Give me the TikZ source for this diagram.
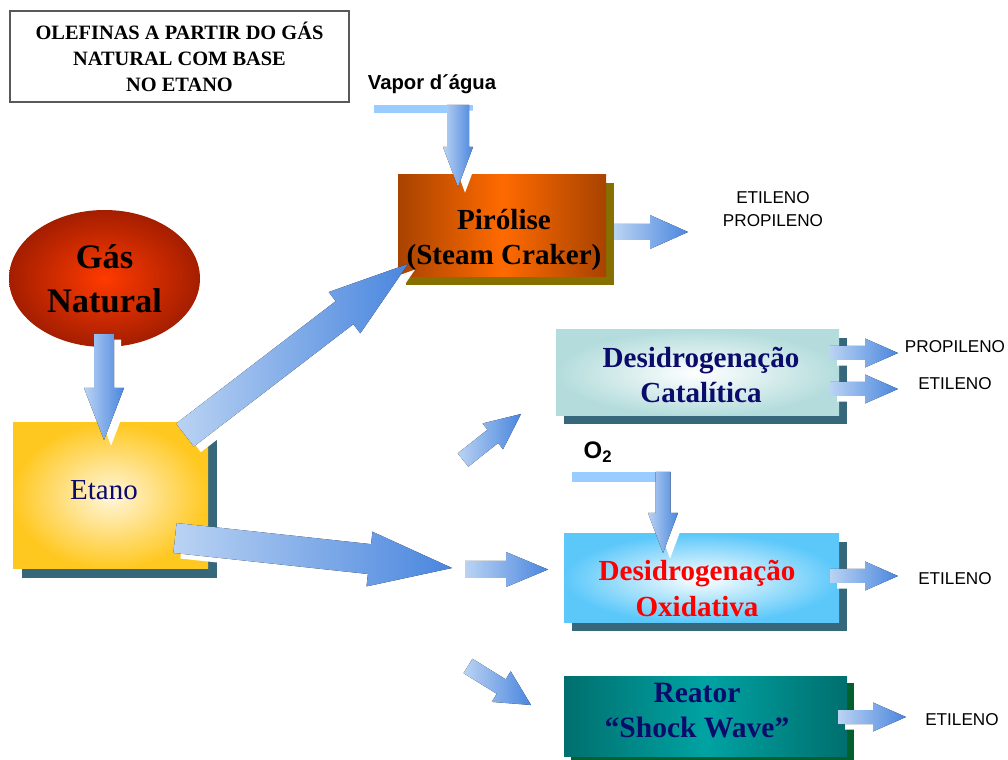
\documentclass[tikz,border=0pt]{standalone}
\usepackage{fontspec}
\setmainfont{Liberation Serif}
\setsansfont{Liberation Sans}
\usetikzlibrary{calc,shadows,shapes.geometric}

\definecolor{arrowlight}{HTML}{BAD3F3}
\definecolor{arrowblue}{HTML}{4A86DE}
\definecolor{pipeblue}{HTML}{99CCFF}
\definecolor{slateshadow}{HTML}{36677B}
\definecolor{oliveshadow}{HTML}{857000}
\definecolor{greenshadow}{HTML}{00602E}
\definecolor{navytext}{HTML}{0B0B6B}
\definecolor{pirdark}{HTML}{A84300}
\definecolor{pirlight}{HTML}{FF6A00}
\definecolor{catout}{HTML}{B4DCDC}
\definecolor{oxiout}{HTML}{5CC8FA}
\definecolor{readark}{HTML}{006F6E}
\definecolor{realight}{HTML}{00A3A3}
\definecolor{etanoout}{HTML}{FFC820}
\definecolor{etanoin}{HTML}{FFF6DC}
\definecolor{gasout}{HTML}{A41E00}
\definecolor{gasin}{HTML}{FF3A00}

\def\pxu{0.025cm}

% block arrow: tail, tip, half shaft, half head, head length (in px)
\newcommand{\arrowpath}[5]{($(#1)!#3*\pxu!90:(#2)$) -- ($(hb)!#3*\pxu!90:(#2)$) -- ($(hb)!#4*\pxu!90:(#2)$) -- (#2) -- ($(hb)!#4*\pxu!-90:(#2)$) -- ($(hb)!#3*\pxu!-90:(#2)$) -- ($(#1)!#3*\pxu!-90:(#2)$) -- cycle}
\newcommand{\blockarrow}[5]{%
  \coordinate (hb) at ($(#2)!#5*\pxu!(#1)$);
  \fill[arrowgap] \arrowpath{#1}{#2}{#3}{#4}{#5};
  \fill[arrowbody] \arrowpath{#1}{#2}{#3}{#4}{#5};
}

\begin{document}
\begin{tikzpicture}[x=0.025cm, y=-0.025cm,
  boxfont/.style={font=\bfseries\fontsize{20.7}{25}\selectfont, align=center},
  product/.style={font=\sffamily\fontsize{12.2}{16.3}\selectfont, align=center},
  feed/.style={font=\sffamily\bfseries\fontsize{14.4}{17}\selectfont},
  arrowgap/.style={fill=white, transform canvas={xshift=5pt, yshift=-4pt}},
  arrowbody/.style={left color=arrowlight, right color=arrowblue},
  pipe/.style={fill=pipeblue},
  procbox/.style={rectangle, inner sep=0pt, drop shadow={shadow xshift=#1, shadow yshift=-#1, fill=slateshadow, opacity=1}}
]

\useasboundingbox (0,0) rectangle (1008,760);

\node[draw=black!65, line width=0.9pt, fill=white, minimum width=339*\pxu, minimum height=91*\pxu, align=center, font=\bfseries\fontsize{14.5}{18.5}\selectfont] (titulo) at (179.5,56.5) {OLEFINAS A PARTIR DO GÁS\\NATURAL COM BASE\\NO ETANO};

\node[ellipse, inner sep=0pt, minimum width=191*\pxu, minimum height=137*\pxu, inner color=gasin, outer color=gasout, font=\bfseries\fontsize{24.5}{31}\selectfont, align=center] (gas) at (104.5,278.5) {Gás\\Natural};

\node[procbox=0.225cm, minimum width=195*\pxu, minimum height=146*\pxu, inner color=etanoin, outer color=etanoout] (etano) at (110.5,496) {};
\node[font=\fontsize{20.6}{24}\selectfont, text=navytext] (etano-txt) at (104,490) {Etano};

\node[procbox=0.2cm, drop shadow={shadow xshift=0.2cm, shadow yshift=-0.2cm, fill=oliveshadow, opacity=1}, minimum width=208*\pxu, minimum height=102*\pxu, left color=pirdark, right color=pirdark, middle color=pirlight] (pirolise) at (502,226) {};
\node[boxfont] (pirolise-txt) at (504,240) {Pirólise\\(Steam Craker)};

\node[procbox=0.2cm, minimum width=283*\pxu, minimum height=86*\pxu, inner color=white, outer color=catout] (catalitica) at (697.5,373) {};
\node[boxfont, text=navytext] (catalitica-txt) at (701,375) {Desidrogenação\\Catalítica};

\node[procbox=0.2cm, minimum width=275*\pxu, minimum height=89*\pxu, inner color=white, outer color=oxiout] (oxidativa) at (701.5,578.5) {};
\node[boxfont, text=red] (oxidativa-txt) at (697,588.5) {Desidrogenação\\Oxidativa};

\node[procbox=0.175cm, drop shadow={shadow xshift=0.175cm, shadow yshift=-0.175cm, fill=greenshadow, opacity=1}, minimum width=283*\pxu, minimum height=80*\pxu, left color=readark, right color=readark, middle color=realight] (reator) at (705.5,716) {};
\node[boxfont, font=\bfseries\fontsize{21}{25}\selectfont, text=navytext] (reator-txt) at (697,710.5) {Reator\\“Shock Wave”};

\node[feed] (vapor) at (432,84) {Vapor d´água};
\node[feed, font=\sffamily\bfseries\fontsize{17}{20}\selectfont] (o2) at (598,452) {O\textsubscript{2}};

\node[product] (prod-pir) at (773,209.5) {ETILENO\\PROPILENO};
\node[product] (prop-cat) at (955,347) {PROPILENO};
\node[product] (etil-cat) at (955,384) {ETILENO};
\node[product] (etil-oxi) at (955,579) {ETILENO};
\node[product] (etil-rea) at (962,720) {ETILENO};

\coordinate (vapor-a) at (458,105);   \coordinate (vapor-b) at (458,187);
\coordinate (gas-a) at (104,334);     \coordinate (gas-b) at (104,440);
\coordinate (pir-a) at (185,435);     \coordinate (pir-b) at (408,264);
\coordinate (meio-a) at (175,538);    \coordinate (meio-b) at (452,568);
\coordinate (oxi-a) at (465,569.5);   \coordinate (oxi-b) at (548,569.5);
\coordinate (cat-a) at (463,460);     \coordinate (cat-b) at (521,414);
\coordinate (rea-a) at (468,666);     \coordinate (rea-b) at (531,705);
\coordinate (o2-a) at (663,472);      \coordinate (o2-b) at (663,553);
\coordinate (pirout-a) at (614,232);  \coordinate (pirout-b) at (688,232);
\coordinate (catout1-a) at (830,353); \coordinate (catout1-b) at (898,353);
\coordinate (catout2-a) at (830,389); \coordinate (catout2-b) at (898,389);
\coordinate (oxiout-a) at (830,576);  \coordinate (oxiout-b) at (898,576);
\coordinate (reaout-a) at (838,717);  \coordinate (reaout-b) at (906,717);

\fill[pipe] (374,105) rectangle (473,113);
\fill[pipe] (572,472) rectangle (671,482);

\blockarrow{vapor-a}{vapor-b}{11}{15}{40}
\blockarrow{gas-a}{gas-b}{10}{20}{52}
\blockarrow{pir-a}{pir-b}{14.5}{26}{80}
\blockarrow{meio-a}{meio-b}{15}{27.5}{83}
\blockarrow{oxi-a}{oxi-b}{8.5}{17.5}{42}
\blockarrow{cat-a}{cat-b}{8.5}{16.5}{36}
\blockarrow{rea-a}{rea-b}{8.5}{18}{35}
\blockarrow{o2-a}{o2-b}{7.5}{15}{40}
\blockarrow{pirout-a}{pirout-b}{8}{17}{38}
\blockarrow{catout1-a}{catout1-b}{7}{14.5}{33}
\blockarrow{catout2-a}{catout2-b}{7}{14.5}{33}
\blockarrow{oxiout-a}{oxiout-b}{7}{14.5}{33}
\blockarrow{reaout-a}{reaout-b}{7}{14.5}{33}

\end{tikzpicture}
\end{document}
